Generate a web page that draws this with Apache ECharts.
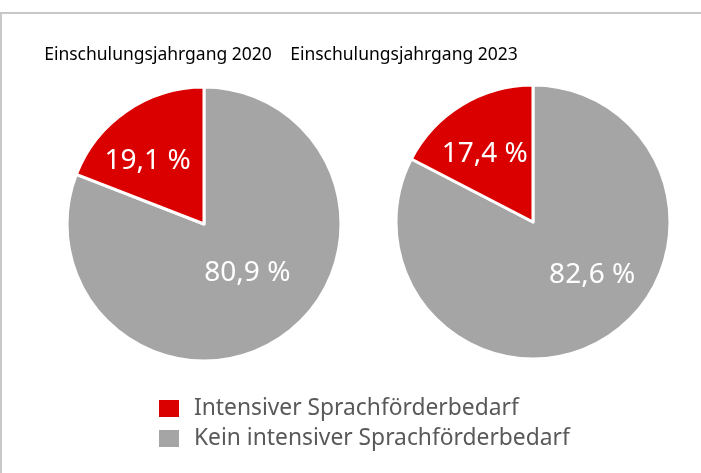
<!DOCTYPE html>
<html>
<head>
<meta charset="utf-8">
<script src="https://cdn.jsdelivr.net/npm/echarts@6/dist/echarts.min.js"></script>
<style>
  html, body { margin: 0; padding: 0; background: #fff; }
  #chart { width: 701px; height: 473px; }
</style>
</head>
<body>
<div id="chart"></div>
<script>
// Daten
const years = ['Einschulungsjahrgang 2020', 'Einschulungsjahrgang 2023']
const categories = ['Kein intensiver Sprachförderbedarf', 'Intensiver Sprachförderbedarf']
const kein = [80.9, 82.6]
const intensiv = [19.1, 17.4]

const colors = ['#a5a5a5', '#da0000']
const centers = [[204, 224], [533, 222]]
const titlePos = [[158, 55], [404, 55]]
// label nudges, per pie: [kein, intensiv]
const labelShift = [
  [[3, -10], [-16, -4]],
  [[22, -8], [-11, -7]]
]

const fmt = v => v.toFixed(1).replace('.', ',') + ' %'

const chart = echarts.init(document.getElementById('chart'))

chart.setOption({
  animation: false,
  color: colors,
  graphic: [
    {
      type: 'rect',
      shape: { x: 1, y: 13, width: 720, height: 480 },
      style: { fill: 'none', stroke: '#c8c8c8', lineWidth: 2 },
      silent: true
    }
  ].concat(years.map((t, i) => ({
    type: 'text',
    x: titlePos[i][0],
    y: titlePos[i][1],
    style: {
      text: t,
      fill: '#000',
      font: '17.5px "Noto Sans"',
      textAlign: 'center',
      textVerticalAlign: 'middle'
    }
  }))),
  legend: {
    orient: 'vertical',
    left: 157,
    top: 397,
    padding: 0,
    icon: 'rect',
    itemWidth: 22,
    itemHeight: 19,
    itemGap: 7,
    data: [categories[1], categories[0]],
    textStyle: {
      color: '#595959',
      fontSize: 22.8,
      fontFamily: 'Noto Sans',
      padding: [0, 0, 0, 9]
    }
  },
  series: years.map((t, i) => ({
    name: t,
    type: 'pie',
    center: centers[i],
    radius: 137,
    startAngle: 90,
    clockwise: true,
    itemStyle: { borderColor: '#fff', borderWidth: 3 },
    label: {
      show: true,
      position: 'inside',
      color: '#fff',
      fontSize: 28,
      fontFamily: 'Noto Sans',
      formatter: p => fmt(p.value)
    },
    labelLine: { show: false },
    labelLayout: p => ({ dx: labelShift[i][p.dataIndex][0], dy: labelShift[i][p.dataIndex][1] }),
    emphasis: { disabled: true },
    data: [
      { name: categories[0], value: kein[i] },
      { name: categories[1], value: intensiv[i] }
    ]
  }))
})
</script>
</body>
</html>
